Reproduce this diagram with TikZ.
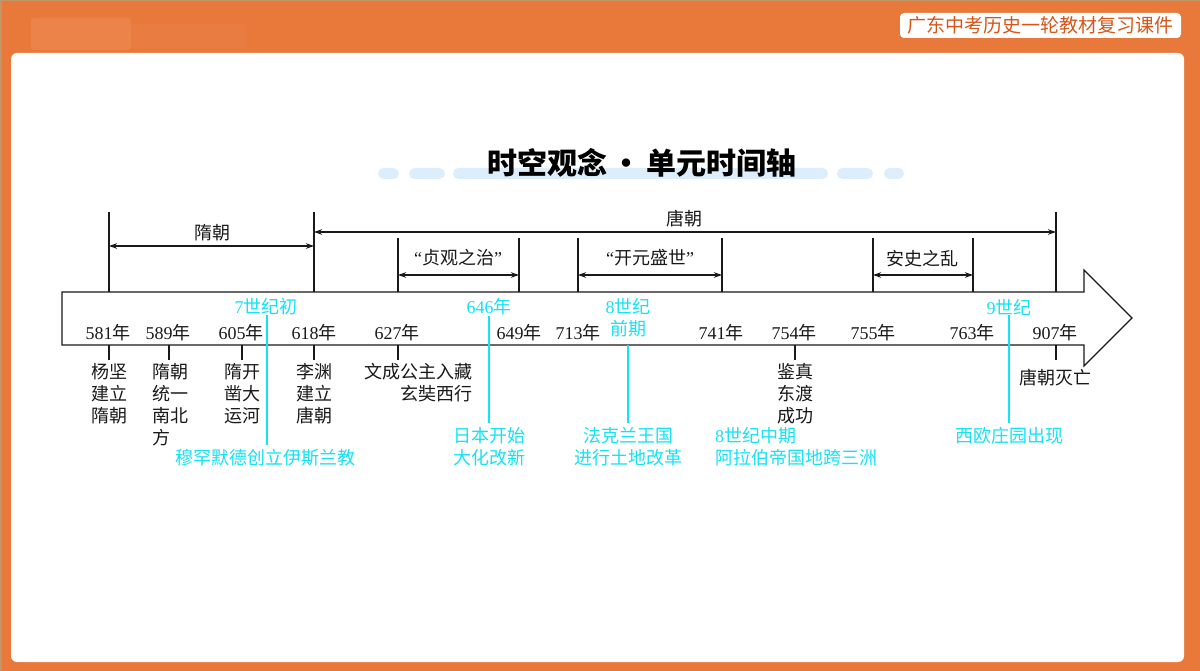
\documentclass[tikz,border=0pt]{standalone}
\usepackage{fontspec}
\setmainfont{Noto Sans CJK SC}
\newfontfamily\tnr{Liberation Serif}
\usetikzlibrary{arrows.meta}
\definecolor{bgorange}{RGB}{232,121,59}
\definecolor{bglight}{RGB}{236,132,74}
\definecolor{edgetan}{RGB}{190,150,105}
\definecolor{cyanlbl}{RGB}{20,226,245}
\definecolor{pillblue}{RGB}{220,238,251}
\definecolor{badgetext}{RGB}{215,85,25}
\definecolor{inkblack}{RGB}{25,25,25}
\newcommand{\yr}[1]{{\tnr #1}年}
\begin{document}
\begin{tikzpicture}[x=1pt,y=-1pt,
  lbl/.style={font=\fontsize{18}{22}\selectfont, text=inkblack, inner sep=0pt},
  clbl/.style={lbl, text=cyanlbl},
  yrlbl/.style={lbl},
  rng/.style={draw=inkblack, line width=1.1pt},
  rangearrow/.style={rng, {Stealth[length=8pt,width=5.5pt]}-{Stealth[length=8pt,width=5.5pt]}},
  cline/.style={draw=cyanlbl, line width=1.2pt, shorten >=4pt},
  pill/.style={fill=pillblue, rounded corners=5.5pt},
]
\useasboundingbox (0,0) rectangle (1200,671);
% background
\fill[bgorange] (0,0) rectangle (1200,671);
\fill[edgetan] (0,0) rectangle (1200,1.5);
\fill[edgetan] (0,0) rectangle (2,671);
\fill[bglight, rounded corners=3pt] (31,18) rectangle (131,50);
\fill[bglight, opacity=0.4, rounded corners=3pt] (131,24) rectangle (246,48);
\fill[white] (11,53) [rounded corners=6pt] rectangle (1184,662);
% badge
\node[fill=white, rounded corners=4pt, minimum width=281pt, minimum height=25pt, inner sep=0pt,
      text=badgetext, font=\fontsize{19}{19}\selectfont] (badge) at (1040.5,25.5) {广东中考历史一轮教材复习课件};
% title
\fill[pill] (378,168) rectangle (399,179);
\fill[pill] (409,168) rectangle (445,179);
\fill[pill] (453,168) rectangle (828,179);
\fill[pill] (837,168) rectangle (873,179);
\fill[pill] (884,168) rectangle (904,179);
\node[inner sep=0pt, text=black, font=\fontsize{30}{30}\selectfont\bfseries] (title) at (642,163)
  {时空观念\hspace{5pt}・\hspace{5pt}单元时间轴};
% timeline arrow
\draw[line width=1.1pt, draw=inkblack, fill=white, line join=miter]
  (62,292) -- (1084,292) -- (1084,270) -- (1132,318) -- (1084,366) -- (1084,345) -- (62,345) -- cycle;
% range coordinates
\coordinate (s581) at (109,212); \coordinate (b581) at (109,292);
\coordinate (s618) at (314,212); \coordinate (b618) at (314,292);
\coordinate (s907) at (1056,212); \coordinate (b907) at (1056,292);
\coordinate (s627) at (398,238); \coordinate (b627) at (398,292);
\coordinate (s649) at (519,238); \coordinate (b649) at (519,292);
\coordinate (s713) at (578,238); \coordinate (b713) at (578,292);
\coordinate (s741) at (722,238); \coordinate (b741) at (722,292);
\coordinate (s755) at (873,238); \coordinate (b755) at (873,292);
\coordinate (s763) at (973,238); \coordinate (b763) at (973,292);
\foreach \n in {581,618,907,627,649,713,741,755,763} \draw[rng] (s\n) -- (b\n);
% range arrows
\draw[rangearrow] (109,246) -- (314,246);
\draw[rangearrow] (314,232) -- (1056,232);
\draw[rangearrow] (398,275) -- (519,275);
\draw[rangearrow] (578,275) -- (722,275);
\draw[rangearrow] (873,275) -- (973,275);
\node[lbl] (sui) at (212,233) {隋朝};
\node[lbl] (tang) at (684,219) {唐朝};
\node[lbl] (zg) at (458,258) {{\tnr “}贞观之治{\tnr ”}};
\node[lbl] (ky) at (650,258) {{\tnr “}开元盛世{\tnr ”}};
\node[lbl] (as) at (922,259) {安史之乱};
% years
\node[yrlbl] (y581) at (108,333) {\yr{581}};
\node[yrlbl] (y589) at (168,333) {\yr{589}};
\node[yrlbl] (y605) at (241,333) {\yr{605}};
\node[yrlbl] (y618) at (314,333) {\yr{618}};
\node[yrlbl] (y627) at (397,333) {\yr{627}};
\node[yrlbl] (y649) at (519,333) {\yr{649}};
\node[yrlbl] (y713) at (578,333) {\yr{713}};
\node[yrlbl] (y741) at (721,333) {\yr{741}};
\node[yrlbl] (y754) at (794,333) {\yr{754}};
\node[yrlbl] (y755) at (873,333) {\yr{755}};
\node[yrlbl] (y763) at (972,333) {\yr{763}};
\node[yrlbl] (y907) at (1055,333) {\yr{907}};
% ticks below
\foreach \n/\x in {581/109,589/169,605/242,618/314,627/398,754/795,907/1056}
  {\coordinate (t\n) at (\x,345); \draw[rng] (t\n) -- ++(0,15);}
% black labels below
\node[lbl, align=center, anchor=north] (l581) at (109,363) {杨坚\\建立\\隋朝};
\node[lbl, align=left, anchor=north west] (l589) at (152,363) {隋朝\\统一\\南北\\方};
\node[lbl, align=center, anchor=north] (l605) at (242,363) {隋开\\凿大\\运河};
\node[lbl, align=center, anchor=north] (l618) at (314,363) {李渊\\建立\\唐朝};
\node[lbl, align=right, anchor=north east] (l627) at (473,363) {文成公主入藏\\玄奘西行};
\node[lbl, align=center, anchor=north] (l754) at (795,363) {鉴真\\东渡\\成功};
\node[lbl] (l907) at (1055,378) {唐朝灭亡};
% cyan labels
\node[clbl] (c7) at (266,307) {{\tnr 7}世纪初};
\node[clbl] (c646) at (489,307) {\yr{646}};
\node[clbl, align=center, anchor=north] (c8) at (628,298) {{\tnr 8}世纪\\前期};
\node[clbl] (c9) at (1009,307) {{\tnr 9}世纪};
\node[clbl] (mu) at (265,458) {穆罕默德创立伊斯兰教};
\node[clbl, align=center, anchor=north] (rb) at (489,427) {日本开始\\大化改新};
\node[clbl, align=center, anchor=north] (fa) at (628,427) {法克兰王国\\进行土地改革};
\node[clbl, align=left, anchor=north west] (al) at (715,427) {{\tnr 8}世纪中期\\阿拉伯帝国地跨三洲};
\node[clbl] (xo) at (1009,436) {西欧庄园出现};
% cyan connectors
\coordinate (c8b) at (628,345);
\draw[cline] (c7.south -| 267,0) -- (mu.north -| 267,0);
\draw[cline] (c646.south) -- (rb.north);
\draw[cline] (c8b) -- (fa.north);
\draw[cline] (c9.south) -- (xo.north);
\end{tikzpicture}
\end{document}
